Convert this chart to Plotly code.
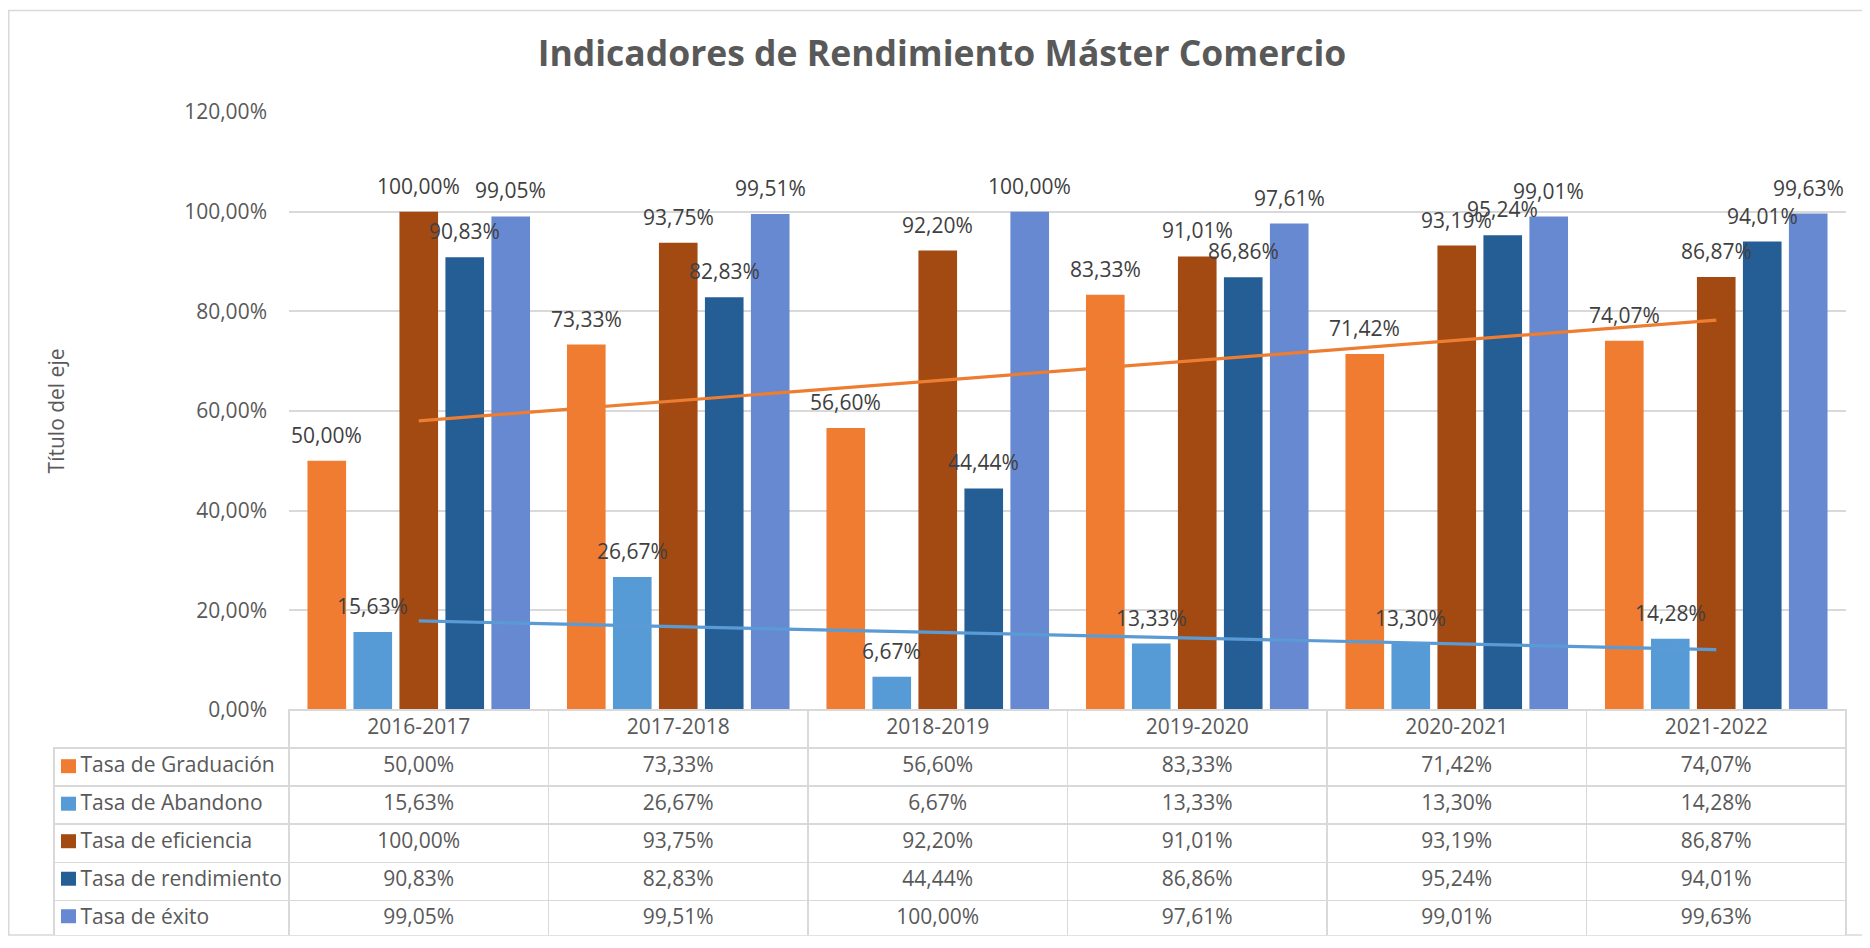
import numpy as np
import plotly.graph_objects as go

# ---------------- data ----------------
categories = ["2016-2017", "2017-2018", "2018-2019", "2019-2020", "2020-2021", "2021-2022"]
tasa_graduacion = [50.00, 73.33, 56.60, 83.33, 71.42, 74.07]
tasa_abandono = [15.63, 26.67, 6.67, 13.33, 13.30, 14.28]
tasa_eficiencia = [100.00, 93.75, 92.20, 91.01, 93.19, 86.87]
tasa_rendimiento = [90.83, 82.83, 44.44, 86.86, 95.24, 94.01]
tasa_exito = [99.05, 99.51, 100.00, 97.61, 99.01, 99.63]
series_names = ["Tasa de Graduación", "Tasa de Abandono", "Tasa de eficiencia",
                "Tasa de rendimiento", "Tasa de éxito"]
y_tick_values = [0, 20, 40, 60, 80, 100, 120]
y_tick_labels = ["0,00%", "20,00%", "40,00%", "60,00%", "80,00%", "100,00%", "120,00%"]

series_values = [tasa_graduacion, tasa_abandono, tasa_eficiencia, tasa_rendimiento, tasa_exito]
bar_colors = ["#EF7C31", "#569AD6", "#A34A12", "#245E95", "#6689D1"]
trend_colors = {0: "#ED7D31", 1: "#5B9BD5"}

FONT = "Open Sans"
W, H = 1862, 940
AX_LEFT, AX_RIGHT = 281, 1838
AX_TOP, AX_BOTTOM = 104, 711
TABLE_LEFT = 46
N_ROWS = 5
TABLE_BOTTOM = 939.5
ROW_H = (TABLE_BOTTOM - AX_BOTTOM) / (N_ROWS + 1)
ML, MR, MT, MB = 0, W - AX_RIGHT, AX_TOP, H - TABLE_BOTTOM
PW = W - ML - MR
PH = H - MT - MB

def px_x(px):
    return (px - ML) / PW

def px_y(py):
    return (H - MB - py) / PH

BARGAP = 0.114
BARGROUPGAP = 0.16

def fmt(v):
    return f"{v:.2f}".replace(".", ",") + "%"

fig = go.Figure()

for name, vals, col in zip(series_names, series_values, bar_colors):
    fig.add_trace(go.Bar(
        x=categories, y=vals, name=name,
        marker=dict(color=col, line=dict(width=0)),
        showlegend=False, hoverinfo="x+y+name",
    ))

# linear trend lines (Excel-style) for Graduación and Abandono
idx = np.arange(1, len(categories) + 1)
for s_i, col in trend_colors.items():
    slope, icpt = np.polyfit(idx, series_values[s_i], 1)
    ends = np.array([idx[0], idx[-1]])
    fig.add_trace(go.Scatter(
        x=[categories[0], categories[-1]], y=slope * ends + icpt,
        mode="lines", line=dict(color=col, width=3.2),
        showlegend=False, hoverinfo="skip",
    ))

# data labels
annotations = []
n = len(series_names)
slot = (1 - BARGAP) / n
for i, vals in enumerate(series_values):
    for j, v in enumerate(vals):
        annotations.append(dict(
            x=j + (i - (n - 1) / 2) * slot, y=v, xref="x", yref="y",
            text=fmt(v), showarrow=False, yanchor="middle", yshift=26,
            font=dict(family=FONT, size=21, color="#404040"),
        ))

# data table
NB = "\u00A0"
legend_col = [NB * 3 + "\u200A" + nm.replace(" ", NB) for nm in series_names]
table_cols = [legend_col] + [[fmt(series_values[i][j]) for i in range(n)] for j in range(len(categories))]
col_w = [AX_LEFT - TABLE_LEFT] + [(AX_RIGHT - AX_LEFT) / len(categories)] * len(categories)
grid_c = "#D9D9D9"
fig.add_trace(go.Table(
    domain=dict(x=[px_x(TABLE_LEFT), 1], y=[0, px_y(AX_BOTTOM)]),
    columnwidth=col_w,
    header=dict(
        values=[""] + categories, height=ROW_H,
        fill=dict(color=["rgba(0,0,0,0)"] + ["white"] * len(categories)),
        line=dict(color=["rgba(0,0,0,0)"] + [grid_c] * len(categories), width=1.5),
        align="center",
        font=dict(family=FONT, size=21, color="#595959"),
    ),
    cells=dict(
        values=table_cols, height=ROW_H,
        fill=dict(color="white"),
        line=dict(color=grid_c, width=1.5),
        align=["left"] + ["center"] * len(categories),
        font=dict(family=FONT, size=21, color="#595959"),
    ),
))

# legend keys inside the table
shapes = []
for r, col in enumerate(bar_colors):
    yc = AX_BOTTOM + ROW_H * (r + 1) + ROW_H / 2
    shapes.append(dict(type="rect", xref="paper", yref="paper",
                       xsizemode="pixel", ysizemode="pixel",
                       xanchor=px_x(TABLE_LEFT + 7), yanchor=px_y(yc),
                       x0=0, x1=15, y0=-7, y1=7,
                       fillcolor=col, line=dict(width=0), layer="above"))
# chart border
shapes.append(dict(type="rect", xref="paper", yref="paper",
                   x0=px_x(0.75), x1=px_x(1859), y0=px_y(939.5), y1=px_y(1),
                   line=dict(color="#D9D9D9", width=1.5), fillcolor="rgba(0,0,0,0)",
                   layer="below"))

fig.update_layout(
    width=W, height=H,
    margin=dict(l=ML, r=MR, t=MT, b=MB),
    paper_bgcolor="white", plot_bgcolor="white",
    barmode="group", bargap=BARGAP, bargroupgap=BARGROUPGAP,
    title=dict(text="<b>Indicadores de Rendimiento Máster Comercio</b>",
               x=934 / W, xref="container", xanchor="center",
               y=1 - 46 / H, yref="container", yanchor="middle",
               font=dict(family=FONT, size=35.5, color="#595959")),
    xaxis=dict(domain=[px_x(AX_LEFT), 1], showticklabels=False, showgrid=False,
               showline=False, zeroline=False, ticks=""),
    yaxis=dict(domain=[px_y(AX_BOTTOM), 1], range=[0, 120],
               tickvals=y_tick_values, ticktext=y_tick_labels,
               showgrid=True, gridcolor=grid_c, gridwidth=1.5,
               zeroline=False, showline=False, ticks="", ticklabelstandoff=21,
               tickfont=dict(family=FONT, size=21, color="#595959"),
               title=dict(text="Título del eje", standoff=113,
                          font=dict(family=FONT, size=21, color="#595959"))),
    annotations=annotations,
    shapes=shapes,
    font=dict(family=FONT, color="#595959"),
)

fig.write_html("out.html")
